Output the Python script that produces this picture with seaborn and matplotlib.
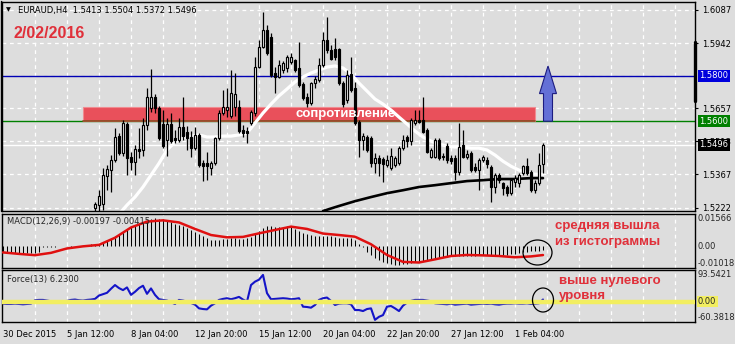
import numpy as np
import matplotlib
matplotlib.use("Agg")
import matplotlib.pyplot as plt
import seaborn as sns
from matplotlib.patches import Rectangle, Ellipse, Polygon
from matplotlib.lines import Line2D

# ---------------- data ----------------
symbol = "EURAUD,H4"
last_ohlc = ["1.5413", "1.5504", "1.5372", "1.5496"]
date_note = "2/02/2016"

first_visible = 23  # first bar index whose candle is inside the price window
opens = [1.5220, 1.5233, 1.5237, 1.5360, 1.5386, 1.5430, 1.5535, 1.5460, 1.5588, 1.5443,
         1.5421, 1.5478, 1.5474, 1.5583, 1.5658, 1.5706, 1.5658, 1.5588, 1.5517, 1.5588,
         1.5526, 1.5517, 1.5575, 1.5553, 1.5531, 1.5482, 1.5540, 1.5416, 1.5416, 1.5395,
         1.5416, 1.5526, 1.5636, 1.5649, 1.5623, 1.5662, 1.5662, 1.5561, 1.5557, 1.5592,
         1.5636, 1.5837, 1.5925, 1.5999, 1.5969, 1.5811, 1.5794, 1.5824, 1.5833, 1.5859,
         1.5868, 1.5833, 1.5763, 1.5706, 1.5680, 1.5767, 1.5780, 1.5846, 1.5956, 1.5912,
         1.5916, 1.5916, 1.5767, 1.5693, 1.5807, 1.5745, 1.5596, 1.5517, 1.5531, 1.5526,
         1.5416, 1.5438, 1.5434, 1.5408, 1.5395, 1.5408, 1.5416, 1.5482, 1.5531, 1.5513,
         1.5592, 1.5605, 1.5605, 1.5561, 1.5443, 1.5443, 1.5517, 1.5447, 1.5491, 1.5438,
         1.5438, 1.5377, 1.5496, 1.5443, 1.5460, 1.5399, 1.5386, 1.5430, 1.5430, 1.5399,
         1.5312, 1.5364, 1.5329, 1.5312, 1.5285, 1.5334, 1.5329, 1.5373, 1.5403, 1.5377,
         1.5298, 1.5329, 1.5413]
highs = [1.5246, 1.5298, 1.5395, 1.5408, 1.5452, 1.5570, 1.5548, 1.5605, 1.5596, 1.5465,
         1.5496, 1.5570, 1.5614, 1.5745, 1.5829, 1.5719, 1.5667, 1.5649, 1.5614, 1.5636,
         1.5561, 1.5614, 1.5706, 1.5579, 1.5557, 1.5575, 1.5548, 1.5430, 1.5465, 1.5425,
         1.5531, 1.5649, 1.5737, 1.5745, 1.5824, 1.5811, 1.5693, 1.5583, 1.5575, 1.5649,
         1.5881, 1.5956, 1.6078, 1.6021, 1.5986, 1.5837, 1.5868, 1.5864, 1.5890, 1.5899,
         1.5873, 1.5947, 1.5772, 1.5724, 1.5772, 1.5798, 1.5877, 1.5991, 1.6056, 1.5934,
         1.5965, 1.5921, 1.5776, 1.5824, 1.5881, 1.5772, 1.5605, 1.5548, 1.5540, 1.5535,
         1.5460, 1.5452, 1.5443, 1.5452, 1.5482, 1.5447, 1.5491, 1.5540, 1.5540, 1.5614,
         1.5649, 1.5649, 1.5706, 1.5570, 1.5482, 1.5526, 1.5526, 1.5460, 1.5504, 1.5452,
         1.5452, 1.5592, 1.5561, 1.5474, 1.5469, 1.5416, 1.5438, 1.5452, 1.5443, 1.5408,
         1.5373, 1.5373, 1.5334, 1.5320, 1.5351, 1.5364, 1.5373, 1.5408, 1.5438, 1.5386,
         1.5342, 1.5460, 1.5504]
lows = [1.5202, 1.5202, 1.5211, 1.5298, 1.5290, 1.5421, 1.5452, 1.5447, 1.5364, 1.5386,
        1.5364, 1.5438, 1.5447, 1.5561, 1.5640, 1.5636, 1.5517, 1.5482, 1.5447, 1.5504,
        1.5504, 1.5509, 1.5517, 1.5474, 1.5443, 1.5474, 1.5399, 1.5338, 1.5342, 1.5364,
        1.5408, 1.5517, 1.5627, 1.5618, 1.5614, 1.5623, 1.5548, 1.5531, 1.5504, 1.5583,
        1.5623, 1.5833, 1.5921, 1.5890, 1.5794, 1.5724, 1.5789, 1.5811, 1.5815, 1.5851,
        1.5815, 1.5750, 1.5693, 1.5662, 1.5671, 1.5745, 1.5772, 1.5837, 1.5899, 1.5868,
        1.5868, 1.5758, 1.5662, 1.5680, 1.5728, 1.5583, 1.5443, 1.5474, 1.5465, 1.5399,
        1.5373, 1.5360, 1.5334, 1.5399, 1.5386, 1.5399, 1.5408, 1.5474, 1.5487, 1.5496,
        1.5583, 1.5592, 1.5548, 1.5460, 1.5438, 1.5438, 1.5430, 1.5430, 1.5416, 1.5412,
        1.5342, 1.5364, 1.5438, 1.5434, 1.5377, 1.5377, 1.5298, 1.5421, 1.5395, 1.5246,
        1.5285, 1.5329, 1.5277, 1.5272, 1.5277, 1.5312, 1.5312, 1.5364, 1.5364, 1.5290,
        1.5285, 1.5320, 1.5372]
closes = [1.5237, 1.5272, 1.5364, 1.5390, 1.5430, 1.5531, 1.5460, 1.5592, 1.5438, 1.5421,
          1.5478, 1.5469, 1.5583, 1.5706, 1.5706, 1.5658, 1.5526, 1.5491, 1.5588, 1.5513,
          1.5517, 1.5575, 1.5535, 1.5526, 1.5482, 1.5540, 1.5408, 1.5403, 1.5403, 1.5416,
          1.5526, 1.5636, 1.5662, 1.5662, 1.5724, 1.5719, 1.5557, 1.5548, 1.5548, 1.5640,
          1.5837, 1.5925, 1.5999, 1.5899, 1.5802, 1.5794, 1.5846, 1.5855, 1.5881, 1.5881,
          1.5824, 1.5758, 1.5702, 1.5680, 1.5767, 1.5785, 1.5846, 1.5956, 1.5912, 1.5873,
          1.5881, 1.5767, 1.5675, 1.5802, 1.5737, 1.5592, 1.5517, 1.5535, 1.5474, 1.5416,
          1.5438, 1.5416, 1.5412, 1.5430, 1.5447, 1.5438, 1.5482, 1.5517, 1.5513, 1.5605,
          1.5605, 1.5596, 1.5553, 1.5465, 1.5474, 1.5517, 1.5438, 1.5443, 1.5430, 1.5425,
          1.5377, 1.5487, 1.5443, 1.5456, 1.5386, 1.5386, 1.5430, 1.5443, 1.5412, 1.5312,
          1.5364, 1.5342, 1.5307, 1.5285, 1.5342, 1.5351, 1.5364, 1.5403, 1.5373, 1.5298,
          1.5329, 1.5408, 1.5496]

# white moving average, read every second bar
ma_fast_idx = list(range(29, 136, 2))
ma_fast = [1.5193, 1.5233, 1.5268, 1.5312, 1.5364, 1.5416, 1.5474, 1.5509, 1.5526, 1.5535,
           1.5540, 1.5531, 1.5531, 1.5535, 1.5535, 1.5540, 1.5548, 1.5592, 1.5636, 1.5675,
           1.5711, 1.5741, 1.5772, 1.5794, 1.5811, 1.5824, 1.5837, 1.5842, 1.5833, 1.5807,
           1.5767, 1.5732, 1.5697, 1.5675, 1.5649, 1.5618, 1.5588, 1.5557, 1.5531, 1.5513,
           1.5500, 1.5491, 1.5487, 1.5487, 1.5482, 1.5482, 1.5474, 1.5452, 1.5425, 1.5403,
           1.5386, 1.5377, 1.5368, 1.5368]
# black moving average, read every fourth bar
ma_slow_idx = [80, 84, 88, 92, 96, 100, 104, 108, 112, 116, 120, 124, 128, 132, 135]
ma_slow = [1.5207, 1.5229, 1.5250, 1.5268, 1.5285, 1.5298, 1.5312, 1.5320, 1.5329, 1.5338,
           1.5342, 1.5347, 1.5347, 1.5351, 1.5351]

# MACD histogram (main line), one value per bar, in units of 1e-4
macd_hist = [-28, -29, -30, -31, -32, -33, -33, -32, -30, -25,
             -5, -3, -2, -1, 0, 0, 0, -1, 0, 1, 2,
             6, 9, 11, 13,
             20, 28, 40, 50, 60, 70,
             80, 90, 100, 110, 118, 125, 130, 133,
             132, 128, 122, 115, 108, 100, 95,
             88, 80, 70, 60, 50, 40, 32, 30,
             32, 35, 37, 38, 38, 37, 36, 38, 45,
             60, 75, 88, 95, 95, 93, 92, 93, 95, 93,
             85, 75, 65, 60, 55, 50, 48, 50,
             50, 48, 45, 42, 40, 40, 38, 30,
             10, -5, -25, -40, -55, -65, -73, -80, -85, -87, -87,
             -85, -82, -78, -75, -72, -68, -65, -62, -58, -55,
             -52, -50, -48, -47, -46, -45, -45, -44, -44, -43, -42,
             -42, -41, -42, -43, -42, -40, -38, -35, -30, -28, -25,
             -23, -22, -20, -19.7]
# MACD signal line, read every fourth bar, units of 1e-4
signal_idx = [0, 4, 8, 12, 16, 20, 24, 28, 32, 36, 40, 44, 48, 52, 56, 60, 64, 68, 72,
              76, 80, 84, 88, 92, 96, 100, 104, 108, 112, 116, 120, 124, 128, 132, 135]
signal = [-29, -36, -42, -31, -10, 0, 7, 41, 90, 118, 124, 114, 83, 54, 43, 45, 62, 78, 94,
          83, 61, 54, 46, 10, -41, -74, -77, -62, -46, -41, -43, -46, -52, -48, -41.5]

# Force(13), one value per bar
force = [-6, -7, -7, -6, -7, -8, -7, -6,
         4, 5, 5, 3,
         1, 0, 0, 1, 2,
         5, 6, 4, 3,
         5, 6, 8, 18,
         22, 26, 38, 49, 40,
         34, 42, 20, 29, 40,
         47, 23, 39, 20, 7,
         5, 3, -2, -7, 5,
         3, 0, -4, -9, -20,
         -22, -23, -12, -5, 5,
         8, 10, 7, 10, 14,
         6, 0, 49, 59, 65,
         79, 25, 7, 8, 9,
         10, 9, 7, 8, 10,
         -15, -16, -18, -10, 5,
         10, 12, 2, -10, -6,
         -5, -5, -8, -25, -25,
         -28, -22, -20, -54, -45,
         -40, -15, -13, -20, -28,
         -12, -3, 2, 5, 5,
         5, 3, 1, -5, -6,
         -7, -8, -6, -9, -8,
         -7, -6, -9, -8, -7,
         -6, -7, -6, -8, -9,
         -7, -6, -6, -5, -6,
         -6, -5, -7, -6, -5,
         6.23]

time_labels = ["30 Dec 2015", "5 Jan 12:00", "8 Jan 04:00", "12 Jan 20:00", "15 Jan 12:00",
               "20 Jan 04:00", "22 Jan 20:00", "27 Jan 12:00", "1 Feb 04:00"]
time_label_idx = [0, 16, 32, 48, 64, 80, 96, 112, 128]
price_ticks = [1.6087, 1.5942, 1.5657, 1.5513, 1.5367, 1.5222]
target_level = 1.5800
support_level = 1.5600
bid_level = 1.5496
resist_top = 1.5662
macd_range = (-0.01018, 0.01566)
force_range = (-60.3818, 93.5421)
macd_title = "MACD(12,26,9) -0.00197 -0.00415"
force_title = "Force(13) 6.2300"
resist_text = "сопротивление"
note_macd = ["средняя вышла", "из гистограммы"]
note_force = ["выше нулевого", "уровня"]

# ---------------- drawing ----------------
W, H = 735, 344
BG = "#dddddd"
RED = "#e0303a"
sns.set_theme(style="white")
plt.rcParams["font.family"] = ["DejaVu Sans"]

fig = plt.figure(figsize=(W / 100, H / 100), dpi=100)
fig.patch.set_facecolor(BG)


def fx(x):
    return x / W


def fy(y):
    return 1 - y / H


XMIN, XMAX = -0.25, 173.0


def px_axes(x0, y0, x1, y1):
    ax = fig.add_axes([fx(x0), fy(y1), (x1 - x0) / W, (y1 - y0) / H])
    ax.set_facecolor(BG)
    for s in ax.spines.values():
        s.set_color("black")
        s.set_linewidth(1)
    ax.set_xlim(XMIN, XMAX)
    ax.set_xticks([])
    ax.yaxis.tick_right()
    ax.tick_params(axis="y", length=2, width=0.8, pad=3, labelsize=6, colors="black")
    for gi in range(8, 173, 8):
        ax.axvline(gi, color="white", lw=0.9, ls=(0, (3, 3)), zorder=0.5)
    return ax


FS = 6.0
n_bars = len(macd_hist)

# ---- main price panel
ax = px_axes(2, 2, 695, 211)
ax.set_ylim(1.5207, 1.6122)
ax.set_yticks(price_ticks)
ax.set_yticklabels([f"{p:.4f}" for p in price_ticks])
for p in price_ticks + [target_level]:
    ax.axhline(p, color="white", lw=0.9, ls=(0, (3, 3)), zorder=0.5)

ax.axhline(target_level, color="#0000b4", lw=1, zorder=1)
ax.axhline(support_level, color="#008000", lw=1, zorder=1)
ax.axhline(bid_level, color="white", lw=1, zorder=1)

ax.add_patch(Rectangle((20, support_level), 113, resist_top - support_level,
                       facecolor="#e9505b", edgecolor="#f08a90", lw=0.8, zorder=1.2))
ax.plot([20, 133], [support_level, support_level], color="#8a4a20", lw=1.2, zorder=1.3)
ax.text(73, (resist_top + support_level) / 2, resist_text, color="white",
        fontsize=9.5, fontweight="bold", family=["Liberation Sans", "DejaVu Sans"],
        ha="left", va="center", zorder=6)

sns.lineplot(x=ma_fast_idx, y=ma_fast, ax=ax, color="white", lw=2.3, zorder=2, legend=False)
sns.lineplot(x=ma_slow_idx, y=ma_slow, ax=ax, color="black", lw=1.9, zorder=2, legend=False)

o = np.array(opens)
hh = np.array(highs)
ll = np.array(lows)
c = np.array(closes)
idx = np.arange(first_visible, first_visible + len(o))
ax.vlines(idx, ll, hh, color="black", lw=0.9, zorder=3)
up = c >= o
ax.bar(idx[up], np.maximum((c - o)[up], 0.00005), bottom=o[up], width=0.6,
       color="white", edgecolor="black", linewidth=0.85, zorder=4)
ax.bar(idx[~up], (o - c)[~up], bottom=c[~up], width=0.6,
       color="black", edgecolor="black", linewidth=0.85, zorder=4)

arrow = Polygon([(135.125, support_level), (137.375, support_level), (137.375, 1.5721),
                 (138.375, 1.5721), (136.25, 1.5842), (134.125, 1.5721), (135.125, 1.5721)],
                closed=True, facecolor="#6470d6", edgecolor="#1c1c80", lw=0.8, zorder=5)
ax.add_patch(arrow)
ax.set_xlim(XMIN, XMAX)
ax.set_ylim(1.5207, 1.6122)

ytr = ax.get_yaxis_transform()
for lvl, col in [(target_level, "#0000dd"), (support_level, "#008000"), (bid_level, "black")]:
    ax.text(1.0 + 4 / 693, lvl, f"{lvl:.4f}", transform=ytr, color="white", fontsize=FS,
            ha="left", va="center", zorder=10, clip_on=False,
            bbox=dict(boxstyle="square,pad=0.18", fc=col, ec="none"))

# ---- MACD panel
axm = px_axes(2, 213.5, 695, 267.7)
axm.set_yticks([])
mh = np.array(macd_hist) * 1e-4
axm.vlines(np.arange(n_bars), 0, mh, color="black", lw=0.75, zorder=2)
sns.lineplot(x=signal_idx, y=np.array(signal) * 1e-4, ax=axm, color="#e01010", lw=1.8,
             zorder=3, legend=False)
axm.set_xlim(XMIN, XMAX)
axm.set_ylim(*macd_range)
ytm = axm.get_yaxis_transform()
axm.text(1.0 + 3 / 693, macd_range[1], f"{macd_range[1]:.5f}", transform=ytm, fontsize=FS,
         ha="left", va="top", clip_on=False)
axm.text(1.0 + 3 / 693, 0.0, "0.00", transform=ytm, fontsize=FS, ha="left", va="center",
         clip_on=False)
axm.text(1.0 + 3 / 693, macd_range[0], f"{macd_range[0]:.5f}", transform=ytm, fontsize=FS,
         ha="left", va="bottom", clip_on=False)
axm.text(0.007, 0.86, macd_title, transform=axm.transAxes, fontsize=FS, ha="left", va="center")

# ---- Force panel
axf = px_axes(2, 270, 695, 322)
axf.set_yticks([])
sns.lineplot(x=np.arange(n_bars), y=force, ax=axf, color="#1414c8", lw=1.5, zorder=2,
             legend=False)
axf.axhline(0, color="#f2ee60", lw=3.2, zorder=3)
axf.set_xlim(XMIN, XMAX)
axf.set_ylim(*force_range)
ytf = axf.get_yaxis_transform()
axf.text(1.0 + 3 / 693, force_range[1], f"{force_range[1]:.4f}", transform=ytf, fontsize=FS,
         ha="left", va="top", clip_on=False)
axf.text(1.0 + 3 / 693, 0.0, "0.00", transform=ytf, fontsize=FS, ha="left", va="center",
         clip_on=False, bbox=dict(boxstyle="square,pad=0.15", fc="#f2ee60", ec="none"))
axf.text(1.0 + 3 / 693, force_range[0], f"{force_range[0]:.4f}", transform=ytf, fontsize=FS,
         ha="left", va="bottom", clip_on=False)
axf.text(0.007, 0.82, force_title, transform=axf.transAxes, fontsize=FS, ha="left", va="center")

axf.set_xticks(time_label_idx)
axf.set_xticklabels(time_labels, fontsize=FS, ha="left")
axf.tick_params(axis="x", length=3, width=0.8, pad=3, colors="black")

# ---- header texts
fig.text(fx(6), fy(10), "▼", fontsize=4.5, ha="left", va="center", color="black")
fig.text(fx(18), fy(10), f"{symbol}  " + " ".join(last_ohlc), fontsize=FS,
         ha="left", va="center", color="black")
fig.text(fx(13), fy(34), date_note, fontsize=11.5, fontweight="bold", color=RED,
         family=["Liberation Sans", "DejaVu Sans"], ha="left", va="center")

# ---- right side black marker bar and outer frame edge
fig.add_artist(Line2D([fx(695), fx(695)], [fy(42), fy(101)], color="black", lw=2.4))
fig.add_artist(Line2D([fx(1), fx(1)], [fy(1), fy(211)], color="black", lw=1.0))

# ---- annotations
for k, t in enumerate(note_macd):
    fig.text(fx(555), fy(225.5 + 16 * k), t, fontsize=9.5, fontweight="bold", color=RED,
             family=["Liberation Sans", "DejaVu Sans"], ha="left", va="center")
for k, t in enumerate(note_force):
    fig.text(fx(559), fy(281 + 15.5 * k), t, fontsize=9.5, fontweight="bold", color=RED,
             family=["Liberation Sans", "DejaVu Sans"], ha="left", va="center")
fig.add_artist(Ellipse((fx(537.5), fy(252.5)), 29 / W, 25 / H, transform=fig.transFigure,
                       fill=False, ec="black", lw=0.9))
fig.add_artist(Ellipse((fx(543), fy(300)), 21 / W, 24 / H, transform=fig.transFigure,
                       fill=False, ec="black", lw=0.9))

fig.savefig("out.png", dpi=100, facecolor=BG)
